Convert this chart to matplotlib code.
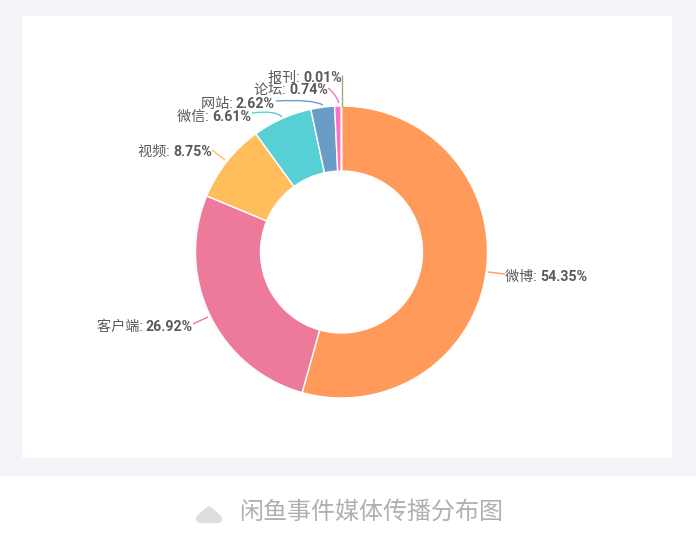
import matplotlib
matplotlib.use("Agg")
import matplotlib.pyplot as plt
from matplotlib.patches import Rectangle, Polygon, PathPatch
from matplotlib.path import Path

plt.rcParams['font.family'] = ['Roboto', 'Noto Sans CJK SC', 'DejaVu Sans']

W, H = 696, 542

# datos
categorias = ["微博", "客户端", "视频", "微信", "网站", "论坛", "报刊"]
valores = [54.35, 26.92, 8.75, 6.61, 2.62, 0.74, 0.01]
colores = ["#FF9A5A", "#EE7A9B", "#FFBD5C", "#56CFD5", "#6A9DC6", "#FF70C5", "#8FB56F"]
titulo = "闲鱼事件媒体传播分布图"

# posicion de cada etiqueta en pixeles: x, y, alineacion
pos_etiquetas = {
    "微博": (505, 277, "left"),
    "客户端": (193, 327, "right"),
    "视频": (212, 152, "right"),
    "微信": (251, 117, "right"),
    "网站": (275, 104, "right"),
    "论坛": (328, 90, "right"),
    "报刊": (342, 78, "right"),
}

# lineas guia: inicio, control, fin (control None = recta)
guias = {
    "微博": ((488, 272), None, (505, 274)),
    "客户端": ((208, 317), None, (193, 324)),
    "视频": ((225, 160), None, (212, 150)),
    "微信": ((282, 117), (276, 110), (252, 113)),
    "网站": ((323, 105), (312, 99), (276, 101)),
    "论坛": ((339, 103), (335, 93), (328, 88)),
    "报刊": ((341.5, 107), None, (341.5, 75)),
}


def py(y):
    return H - y


fig = plt.figure(figsize=(W / 100, H / 100), dpi=100, facecolor="#F4F5F9")
ax = fig.add_axes([0, 0, 1, 1])

ax.add_patch(Rectangle((22, py(458)), 650, 442, fc="white", ec="none", zorder=0))
ax.add_patch(Rectangle((0, 0), W, H - 476, fc="white", ec="none", zorder=0))

ax.pie(valores, colors=colores, startangle=90, counterclock=False,
       center=(341.5, py(252)), radius=146, frame=True,
       wedgeprops={"width": 65, "edgecolor": "white", "linewidth": 1})

ax.set_xlim(0, W)
ax.set_ylim(0, H)
ax.axis("off")

renderer = fig.canvas.get_renderer()
estilo = {"va": "center", "fontsize": 10.2, "color": "#595959", "zorder": 5}

for nombre, valor, color in zip(categorias, valores, colores):
    x, y, ha = pos_etiquetas[nombre]
    parte_nombre = f"{nombre}: "
    parte_valor = f"{valor:.2f}%"
    # nombre normal y numero en negrita, como dos textos seguidos
    if ha == "left":
        t = ax.text(x, py(y), parte_nombre, ha="left", **estilo)
        ancho = t.get_window_extent(renderer).width
        ax.text(x + ancho, py(y), parte_valor, ha="left", fontweight="bold", **estilo)
    else:
        t = ax.text(x, py(y), parte_valor, ha="right", fontweight="bold", **estilo)
        ancho = t.get_window_extent(renderer).width
        ax.text(x - ancho, py(y), parte_nombre, ha="right", **estilo)

    ini, ctrl, fin = guias[nombre]
    if ctrl is None:
        verts = [(ini[0], py(ini[1])), (fin[0], py(fin[1]))]
        codes = [Path.MOVETO, Path.LINETO]
    else:
        verts = [(ini[0], py(ini[1])), (ctrl[0], py(ctrl[1])), (fin[0], py(fin[1]))]
        codes = [Path.MOVETO, Path.CURVE3, Path.CURVE3]
    ax.add_patch(PathPatch(Path(verts, codes), fc="none", ec=color, lw=1, zorder=4))

# icono de nube y titulo
ax.add_patch(Polygon([(200, py(519)), (209, py(510.5)), (218, py(519))], closed=True,
                     fc="#DEDEDE", ec="#DEDEDE", lw=6, joinstyle="round", zorder=3))
ax.text(371, py(512), titulo, ha="center", va="center", fontsize=17.3, color="#B0B0B0")

fig.savefig("out.png", dpi=100, facecolor=fig.get_facecolor())
